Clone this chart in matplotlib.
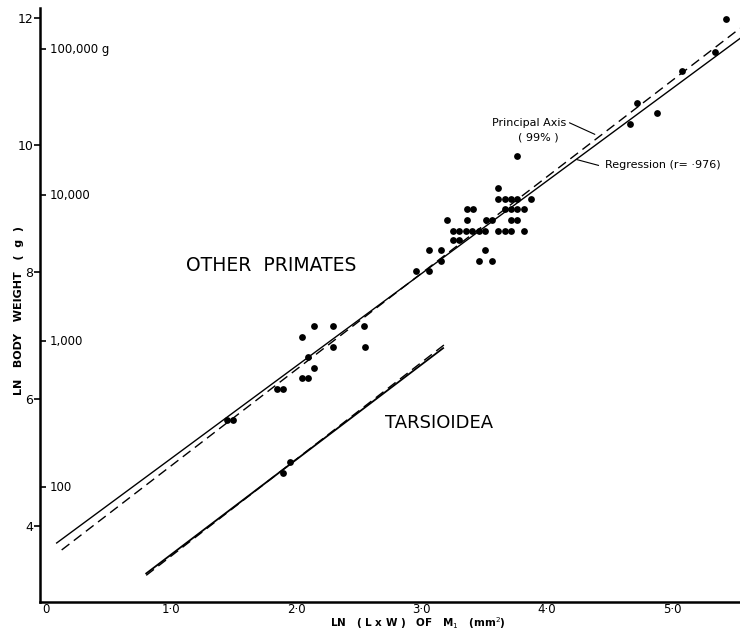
import numpy as np
import matplotlib
matplotlib.use("Agg")
import matplotlib.pyplot as plt
import matplotlib.transforms as mtransforms

# other primates: ln(L x W) of M1 vs ln body weight
other_x = [1.445, 1.492, 1.844, 1.891, 2.043, 2.091, 2.139, 2.091, 2.041, 2.139,
           2.290, 2.538, 2.290, 2.546,
           2.951, 3.057, 3.057, 3.150, 3.150, 3.453, 3.557, 3.506, 3.251, 3.298,
           3.251, 3.298, 3.350, 3.400, 3.453, 3.506, 3.610, 3.661, 3.711, 3.815,
           3.198, 3.357, 3.510, 3.557, 3.711, 3.759,
           3.357, 3.405, 3.663, 3.711, 3.762, 3.815,
           3.610, 3.661, 3.711, 3.762, 3.868, 3.610, 3.757,
           4.661, 4.719, 4.874, 5.078, 5.339, 5.432]
other_y = [5.669, 5.669, 6.157, 6.157, 6.331, 6.331, 6.488, 6.661, 6.981, 7.154,
           7.154, 7.154, 6.824, 6.824,
           8.020, 8.020, 8.342, 8.342, 8.173, 8.173, 8.173, 8.342, 8.499, 8.499,
           8.650, 8.650, 8.650, 8.650, 8.650, 8.650, 8.650, 8.650, 8.650, 8.650,
           8.819, 8.819, 8.819, 8.819, 8.819, 8.819,
           8.987, 8.987, 8.987, 8.987, 8.987, 8.987,
           9.150, 9.150, 9.150, 9.150, 9.150, 9.328, 9.827,
           10.331, 10.666, 10.509, 11.165, 11.469, 11.984]

# tarsioidea
tars_x = [1.894, 1.947]
tars_y = [4.839, 5.003]

# fitted lines (end points)
other_reg_x = [0.085, 5.54]
other_reg_y = [3.73, 11.68]
other_pa_x = [0.125, 5.54]
other_pa_y = [3.62, 11.84]
tars_reg_x = [0.80, 3.17]
tars_reg_y = [3.25, 6.80]
tars_pa_x = [0.80, 3.19]
tars_pa_y = [3.22, 6.87]

xticks = [0, 1, 2, 3, 4, 5]
xtick_labels = ["0", "1·0", "2·0", "3·0", "4·0", "5·0"]
yticks = [4, 6, 8, 10, 12]
grams = [100, 1000, 10000, 100000]
gram_labels = ["100", "1,000", "10,000", "100,000 g"]

fig = plt.figure(figsize=(7.4, 6.34), dpi=100)
ax = fig.add_axes([40 / 740, 32 / 634, 700 / 740, 594 / 634])

ax.plot(other_reg_x, other_reg_y, color="black", lw=1.0)
ax.plot(other_pa_x, other_pa_y, color="black", lw=1.0, dashes=(7, 4))
ax.plot(tars_reg_x, tars_reg_y, color="black", lw=1.3)
ax.plot(tars_pa_x, tars_pa_y, color="black", lw=1.0, dashes=(7, 4))

ax.scatter(other_x, other_y, s=24, color="black", zorder=3, linewidths=0)
ax.scatter(tars_x, tars_y, s=24, color="black", zorder=3, linewidths=0)

ax.set_xlim(-0.048, 5.54)
ax.set_ylim(2.80, 12.16)

for s in ["top", "right"]:
    ax.spines[s].set_visible(False)
for s in ["left", "bottom"]:
    ax.spines[s].set_linewidth(1.8)

ax.set_xticks(xticks)
ax.set_xticklabels(xtick_labels, fontsize=8.5)
ax.tick_params(axis="x", length=0, pad=1)
ax.set_yticks(yticks)
ax.set_yticklabels([str(v) for v in yticks], fontsize=9)
ax.tick_params(axis="y", length=4, width=1.2, pad=1)

# inner gram scale
ax.set_yticks(np.log(grams), minor=True)
ax.tick_params(axis="y", which="minor", direction="in", length=4, width=1.2)
trans = mtransforms.blended_transform_factory(ax.transAxes, ax.transData)
for g, lab in zip(grams, gram_labels):
    ax.text(0.014, np.log(g), lab, transform=trans, fontsize=8.5,
            ha="left", va="center")

ax.text(-0.03, 0.49, "LN   BODY   WEIGHT   (  g  )", transform=ax.transAxes,
        rotation=90, fontsize=8, fontweight="bold", ha="center", va="center")
fig.text(0.565, 0.004, r"LN   ( L x W )   OF   M$_1$   (mm$^2$)",
         fontsize=7.5, fontweight="bold", ha="center", va="bottom")

ax.text(1.80, 8.11, "OTHER  PRIMATES", fontsize=13.5, ha="center", va="center")
ax.text(3.14, 5.62, "TARSIOIDEA", fontsize=13, ha="center", va="center")

ax.text(4.15, 10.35, "Principal Axis", fontsize=8, ha="right", va="center")
ax.text(3.93, 10.12, "( 99% )", fontsize=8, ha="center", va="center")
ax.plot([4.18, 4.38], [10.35, 10.17], color="black", lw=0.8)
ax.text(4.46, 9.68, "Regression (r= ·976)", fontsize=8, ha="left", va="center")
ax.plot([4.24, 4.41], [9.77, 9.68], color="black", lw=0.8)

fig.savefig("out.png", dpi=100)
